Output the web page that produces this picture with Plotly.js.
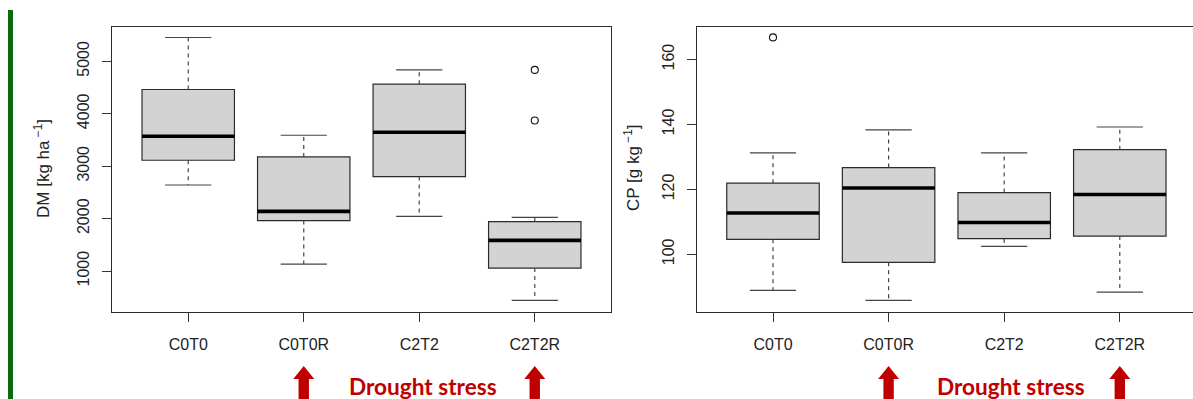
<!DOCTYPE html>
<html>
<head>
<meta charset="utf-8">
<script src="https://cdn.plot.ly/plotly-3.0.1.min.js"></script>
<style>
  html, body { margin: 0; padding: 0; background: #ffffff; }
  #chart { width: 1193px; height: 399px; }
</style>
</head>
<body>
<div id="chart"></div>
<script>
// ---------- data ----------
const categories = ["C0T0", "C0T0R", "C2T2", "C2T2R"];
const catPos = [1, 2, 3, 4];

// Dry matter, DM [kg ha^-1]
const dmLower  = [2641, 1134, 2044, 441];
const dmQ1     = [3113, 1962, 2802, 1057];
const dmMedian = [3571, 2139, 3647, 1586];
const dmQ3     = [4462, 3176, 4563, 1943];
const dmUpper  = [5454, 3590, 4836, 2025];
const dmOutX   = [4, 4];
const dmOutY   = [4836, 3870];

// Crude protein, CP [g kg^-1]
const cpLower  = [88.9, 85.8, 102.4, 88.3];
const cpQ1     = [104.6, 97.5, 104.8, 105.6];
const cpMedian = [112.7, 120.4, 109.8, 118.4];
const cpQ3     = [121.9, 126.7, 119.0, 132.2];
const cpUpper  = [131.2, 138.3, 131.2, 139.2];
const cpOutX   = [1];
const cpOutY   = [166.8];

const dmTicks = [1000, 2000, 3000, 4000, 5000];
const cpTicks = [100, 120, 140, 160];

const droughtLabel = "Drought stress";
const droughtArrowAt = [2, 4];   // arrows under C0T0R and C2T2R

// ---------- styling ----------
const W = 1193, H = 399;
const FONT = '"Liberation Sans", Arial, Helvetica, sans-serif';
const BOXW = 0.8;      // box width in category units
const CAPW = 0.4;      // whisker cap width
const LINE = '#2b2b2b';

function px(v) { return v / W; }
function py(v) { return 1 - v / H; }

function buildPanel(xa, ya, lower, q1, med, q3, upper, outX, outY) {
  const traces = [];
  // box body
  traces.push({
    type: 'box', xaxis: xa, yaxis: ya,
    x: catPos, q1: q1, median: med, q3: q3,
    lowerfence: q1, upperfence: q3,
    width: BOXW, whiskerwidth: 0,
    fillcolor: '#d3d3d3',
    line: { color: LINE, width: 1.2 },
    boxpoints: false, hoverinfo: 'skip', showlegend: false
  });
  const wx = [], wy = [];
  const cx = [], cy = [];
  const mx = [], my = [];
  for (let i = 0; i < catPos.length; i++) {
    const c = catPos[i];
    wx.push(c, c, null, c, c, null);
    wy.push(q3[i], upper[i], null, q1[i], lower[i], null);
    cx.push(c - CAPW / 2, c + CAPW / 2, null, c - CAPW / 2, c + CAPW / 2, null);
    cy.push(upper[i], upper[i], null, lower[i], lower[i], null);
    mx.push(c - BOXW / 2, c + BOXW / 2, null);
    my.push(med[i], med[i], null);
  }
  // dashed whiskers
  traces.push({
    type: 'scatter', mode: 'lines', xaxis: xa, yaxis: ya,
    x: wx, y: wy, line: { color: '#444', width: 1.2, dash: '4px,4px' },
    hoverinfo: 'skip', showlegend: false
  });
  // whisker caps
  traces.push({
    type: 'scatter', mode: 'lines', xaxis: xa, yaxis: ya,
    x: cx, y: cy, line: { color: '#444', width: 1.2 },
    hoverinfo: 'skip', showlegend: false
  });
  // thick median
  traces.push({
    type: 'scatter', mode: 'lines', xaxis: xa, yaxis: ya,
    x: mx, y: my, line: { color: '#000', width: 3.6 },
    hoverinfo: 'skip', showlegend: false
  });
  // outliers
  traces.push({
    type: 'scatter', mode: 'markers', xaxis: xa, yaxis: ya,
    x: outX, y: outY,
    marker: { symbol: 'circle-open', size: 7, color: '#111', line: { width: 1.1 } },
    hoverinfo: 'skip', showlegend: false
  });
  return traces;
}

const data = [].concat(
  buildPanel('x', 'y', dmLower, dmQ1, dmMedian, dmQ3, dmUpper, dmOutX, dmOutY),
  buildPanel('x2', 'y2', cpLower, cpQ1, cpMedian, cpQ3, cpUpper, cpOutX, cpOutY)
);

const yDomain = [py(311.7), py(26.7)];
const pxPerCat = 115.6;

const xCommon = {
  tickmode: 'array', tickvals: catPos, ticktext: categories,
  ticks: 'outside', ticklen: 9, tickwidth: 1, tickcolor: '#333',
  showline: true, linecolor: LINE, linewidth: 1.2,
  showgrid: false, zeroline: false,
  tickfont: { family: FONT, size: 16, color: '#222' },
  ticklabelstandoff: 9,
  fixedrange: true
};
const yCommon = {
  tickmode: 'array',
  ticks: 'outside', ticklen: 9, tickwidth: 1, tickcolor: '#333',
  showline: true, linecolor: LINE, linewidth: 1.2,
  showgrid: false, zeroline: false, tickangle: -90,
  tickfont: { family: FONT, size: 16, color: '#222' },
  ticklabelstandoff: 6,
  fixedrange: true
};

const x2Left = 696.7;
const layout = {
  width: W, height: H,
  margin: { l: 0, r: 0, t: 0, b: 0 },
  paper_bgcolor: '#ffffff', plot_bgcolor: '#ffffff',
  showlegend: false,
  font: { family: FONT, color: '#222' },
  xaxis: Object.assign({}, xCommon, {
    domain: [px(112), px(611)], range: [0.34, 4.66], anchor: 'y', mirror: true
  }),
  yaxis: Object.assign({}, yCommon, {
    domain: yDomain, range: [225, 5660], tickvals: dmTicks, anchor: 'x', mirror: true
  }),
  xaxis2: Object.assign({}, xCommon, {
    domain: [px(x2Left), 1], range: [0.34, 0.34 + (W - x2Left) / pxPerCat], anchor: 'y2', mirror: true
  }),
  yaxis2: Object.assign({}, yCommon, {
    domain: yDomain, range: [82.3, 170.1], tickvals: cpTicks, anchor: 'x2', mirror: false
  }),
  annotations: [
    { xref: 'paper', yref: 'paper', x: px(42), y: py(169), textangle: -90,
      text: 'DM [kg ha<sup> −1</sup>]', showarrow: false, xanchor: 'center', yanchor: 'middle',
      font: { family: FONT, size: 17, color: '#222' } },
    { xref: 'paper', yref: 'paper', x: px(632), y: py(168), textangle: -90,
      text: 'CP [g kg<sup> −1</sup>]', showarrow: false, xanchor: 'center', yanchor: 'middle',
      font: { family: FONT, size: 17, color: '#222' } },
    { xref: 'x', yref: 'paper', x: 3.03, y: py(386), text: '<b>' + droughtLabel + '</b>',
      showarrow: false, xanchor: 'center', yanchor: 'middle',
      font: { family: 'Lato, "Open Sans", sans-serif', size: 22.6, color: '#c00000' } },
    { xref: 'x2', yref: 'paper', x: 3.06, y: py(386), text: '<b>' + droughtLabel + '</b>',
      showarrow: false, xanchor: 'center', yanchor: 'middle',
      font: { family: 'Lato, "Open Sans", sans-serif', size: 22.6, color: '#c00000' } }
  ],
  shapes: []
};

// green vertical bar on the far left
layout.shapes.push({
  type: 'rect', xref: 'paper', yref: 'paper',
  x0: px(8), x1: px(13), y0: 0, y1: py(10),
  fillcolor: '#0b6a0b', line: { width: 0 }, layer: 'above'
});

// block arrows under the drought-stress treatments
const arrowPath = 'M 0 33 L 10.5 20 L 5.2 20 L 5.2 -6 L -5.2 -6 L -5.2 20 L -10.5 20 Z';
['x', 'x2'].forEach(function (xr) {
  droughtArrowAt.forEach(function (c) {
    layout.shapes.push({
      type: 'path', xref: xr, yref: 'paper',
      xsizemode: 'pixel', ysizemode: 'pixel',
      xanchor: c, yanchor: 0,
      path: arrowPath,
      fillcolor: '#c00000', line: { width: 0 }, layer: 'above'
    });
  });
});

Plotly.newPlot('chart', data, layout, { staticPlot: true, displayModeBar: false });
</script>
</body>
</html>
